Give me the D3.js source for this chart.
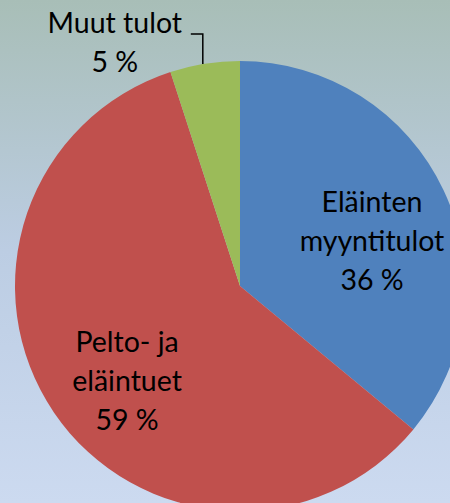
<!DOCTYPE html>
<html><head><meta charset="utf-8">
<script src="https://cdn.jsdelivr.net/npm/d3@7"></script>
<style>html,body{margin:0;padding:0;overflow:hidden;background:#fff}</style>
</head><body>
<svg id="chart" width="450" height="503"></svg>
<script>
const categories = ["Eläinten myyntitulot", "Pelto- ja eläintuet", "Muut tulot"];
const values = [36, 59, 5];
const labelLines = [["Eläinten", "myyntitulot", "36 %"], ["Pelto- ja", "eläintuet", "59 %"], ["Muut tulot", "5 %"]];
const colors = ["#4f81bd", "#c0504d", "#9bbb59"];

const svg = d3.select("#chart");
const W = 450, H = 503;
const defs = svg.append("defs");
const grad = defs.append("linearGradient").attr("id", "bg").attr("x1", 0).attr("y1", 0).attr("x2", 0).attr("y2", 1);
grad.append("stop").attr("offset", "0%").attr("stop-color", "#a8beb7");
grad.append("stop").attr("offset", "50%").attr("stop-color", "#bccde3");
grad.append("stop").attr("offset", "100%").attr("stop-color", "#ccdaf0");
svg.append("rect").attr("width", W).attr("height", H).attr("fill", "url(#bg)");

const cx = 240, cy = 286, r = 225;
const pie = d3.pie().sort(null).value(d => d)(values);
const arc = d3.arc().innerRadius(0).outerRadius(r);
const g = svg.append("g").attr("transform", `translate(${cx},${cy})`);
g.selectAll("path").data(pie).join("path")
  .attr("d", arc).attr("fill", (d, i) => colors[i]);

// label placement (relative to pie center): polar angle (deg, clockwise from top) and distance of middle baseline
const labelPolar = [{a: 75.1, d: 136.6}, {a: 227.1, d: 154.2}, {a: -28.2, d: 264.9}];
const lineH = 39;
const font = "Lato, 'Open Sans', sans-serif";
pie.forEach((p, i) => {
  const lp = labelPolar[i];
  const rad = lp.a * Math.PI / 180;
  const x = lp.d * Math.sin(rad), y = -lp.d * Math.cos(rad);
  const lines = labelLines[i];
  const t = g.append("text").attr("text-anchor", "middle")
    .attr("font-family", font).attr("font-size", 28.5).attr("fill", "#000");
  lines.forEach((ln, k) => {
    t.append("tspan").attr("x", x).attr("y", y + (k - (lines.length - 1) / 2) * lineH).text(ln);
  });
});
// leader line for small slice
const c2 = pie[2];
const midA = (c2.startAngle + c2.endAngle) / 2;
const ex = r * Math.sin(midA) - 2;
const ey = -Math.sqrt(r * r - ex * ex);
g.append("path")
  .attr("d", `M${ex - 12},${-252} H${ex} V${ey}`)
  .attr("fill", "none").attr("stroke", "#000").attr("stroke-width", 1.5);
</script>
</body></html>
